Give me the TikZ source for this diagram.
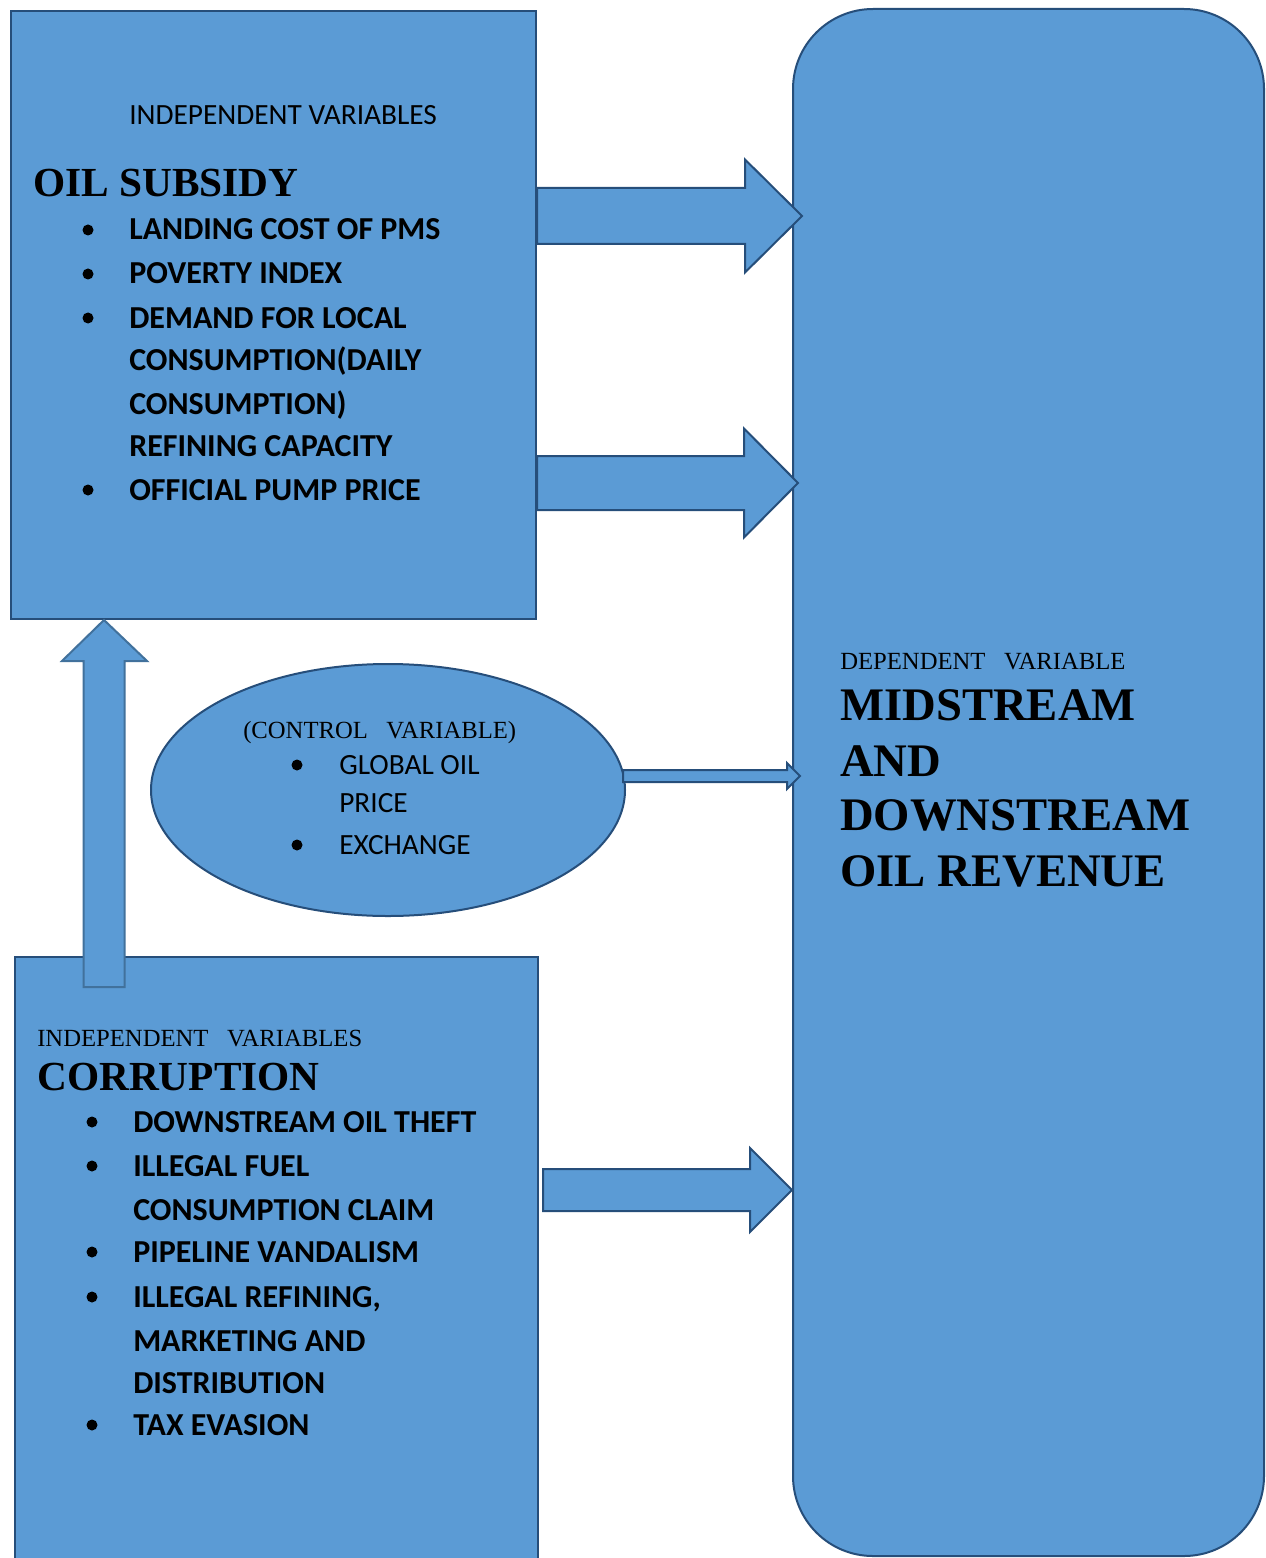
\documentclass[tikz,border=0pt]{standalone}
\usepackage{fontspec}
\setmainfont{Liberation Serif}
\newfontfamily\calibri{Carlito}
\usetikzlibrary{shapes.geometric,fit,calc}

\definecolor{boxblue}{RGB}{91,155,213}
\definecolor{edgeblue}{RGB}{38,78,122}
\definecolor{softedge}{RGB}{65,113,156}

\tikzset{
  varbox/.style={draw=edgeblue, fill=boxblue, line width=1.5pt, inner sep=0pt},
  fatarrow/.style={draw=edgeblue, fill=boxblue, line width=1.5pt, line join=miter},
  hdr/.style={anchor=base west, inner sep=0pt, font=\fontsize{18.5}{20}\selectfont},
  bighdr/.style={anchor=base west, inner sep=0pt, font=\bfseries\fontsize{31}{34}\selectfont},
  item/.style={anchor=base west, inner sep=0pt, font=\calibri\bfseries\fontsize{24}{26}\selectfont},
  ctrlitem/.style={anchor=base west, inner sep=0pt, font=\calibri\fontsize{22}{24}\selectfont}
}

% block arrow: start, tip, shaft half width, head half width, head length
\newcommand{\blockarrow}[5]{%
  \draw[fatarrow] ($(#1)+(0,-#3)$) -- ($(#2)+(-#5,-#3)$) -- ($(#2)+(-#5,-#4)$) -- (#2)
    -- ($(#2)+(-#5,#4)$) -- ($(#2)+(-#5,#3)$) -- ($(#1)+(0,#3)$) -- cycle;}

\begin{document}
\begin{tikzpicture}[x=0.75pt,y=-0.75pt]
  \useasboundingbox[fill=white] (0,0) rectangle (1265,1558);

 % Boxes
  \node[varbox, fit={(11,11) (536,619)}] (subsidy) {};
  \node[varbox, rounded corners=60pt, fit={(793,9) (1264,1556)}] (revenue) {};
  \node[varbox, fit={(15,957) (538,1570)}] (corrupt) {};
  \node[varbox, ellipse, minimum width=355.5pt, minimum height=189pt] (ctrl) at (388,790) {};

 % Arrows into the dependent variable
  \coordinate (a1s) at (subsidy.east |- 0,216);
  \coordinate (a1e) at (802,216);
  \coordinate (a2s) at (subsidy.east |- 0,483);
  \coordinate (a2e) at (798,483);
  \coordinate (a3s) at (543,1190);
  \coordinate (a3e) at (792,1190);
  \coordinate (a4s) at (623,776);
  \coordinate (a4e) at (800,776);
  \blockarrow{a1s}{a1e}{28}{56.5}{57}
  \blockarrow{a2s}{a2e}{27}{54.5}{54}
  \blockarrow{a3s}{a3e}{21}{42}{42}
  \blockarrow{a4s}{a4e}{6}{13}{13}

 % Arrow from corruption up to oil subsidy
  \coordinate (upbot) at (104,987);
  \coordinate (uptip) at (subsidy.south -| 104,0);
  \draw[fatarrow, draw=softedge] ($(upbot)+(-20.5,0)$) -- ($(uptip)+(-20.5,41)$) -- ($(uptip)+(-42,41)$)
    -- (uptip) -- ($(uptip)+(43,41)$) -- ($(uptip)+(20.5,41)$) -- ($(upbot)+(20.5,0)$) -- cycle;

 % Oil subsidy text
  \node[hdr, font=\calibri\fontsize{22}{24}\selectfont] (subhdr) at (129,125) {INDEPENDENT VARIABLES};
  \node[bighdr] (subtitle) at (33,197) {OIL SUBSIDY};
  \foreach \y/\t [count=\i] in {240/LANDING COST OF PMS, 284/POVERTY INDEX, 328/DEMAND FOR LOCAL,
      370/CONSUMPTION(DAILY, 414/CONSUMPTION), 456/REFINING CAPACITY, 500/OFFICIAL PUMP PRICE}
    \node[item] (sub\i) at (129,\y) {\t};
  \foreach \y in {230,274,318,490}
    \fill (88,\y) circle (5.5);

 % Control variable text
  \node[hdr] (ctrlhdr) at (243,738) {(CONTROL\ \ \ VARIABLE)};
  \node[ctrlitem] (ctrl1) at (339,774) {GLOBAL OIL};
  \node[ctrlitem] (ctrl2) at (339,812) {PRICE};
  \node[ctrlitem] (ctrl3) at (339,854) {EXCHANGE};
  \foreach \y in {765,845}
    \fill (297,\y) circle (5.5);

 % Dependent variable text
  \node[hdr] (revhdr) at (840,669) {DEPENDENT\ \ \ VARIABLE};
  \foreach \y/\t [count=\i] in {720/MIDSTREAM, 776/AND, 830/DOWNSTREAM, 886/OIL REVENUE}
    \node[anchor=base west, inner sep=0pt, font=\bfseries\fontsize{35}{38}\selectfont] (rev\i) at (840,\y) {\t};

 % Corruption text
  \node[hdr] (corhdr) at (37,1046) {INDEPENDENT\ \ \ VARIABLES};
  \node[bighdr] (cortitle) at (37,1090) {CORRUPTION};
  \foreach \y/\t [count=\i] in {1132/DOWNSTREAM OIL THEFT, 1176/ILLEGAL FUEL, 1220/CONSUMPTION CLAIM,
      1262/PIPELINE VANDALISM, {1307/ILLEGAL REFINING,}, 1351/MARKETING AND, 1393/DISTRIBUTION, 1435/TAX EVASION}
    \node[item] (cor\i) at (133,\y) {\t};
  \foreach \y in {1122,1166,1252,1297,1425}
    \fill (92,\y) circle (5.5);

\end{tikzpicture}
\end{document}
